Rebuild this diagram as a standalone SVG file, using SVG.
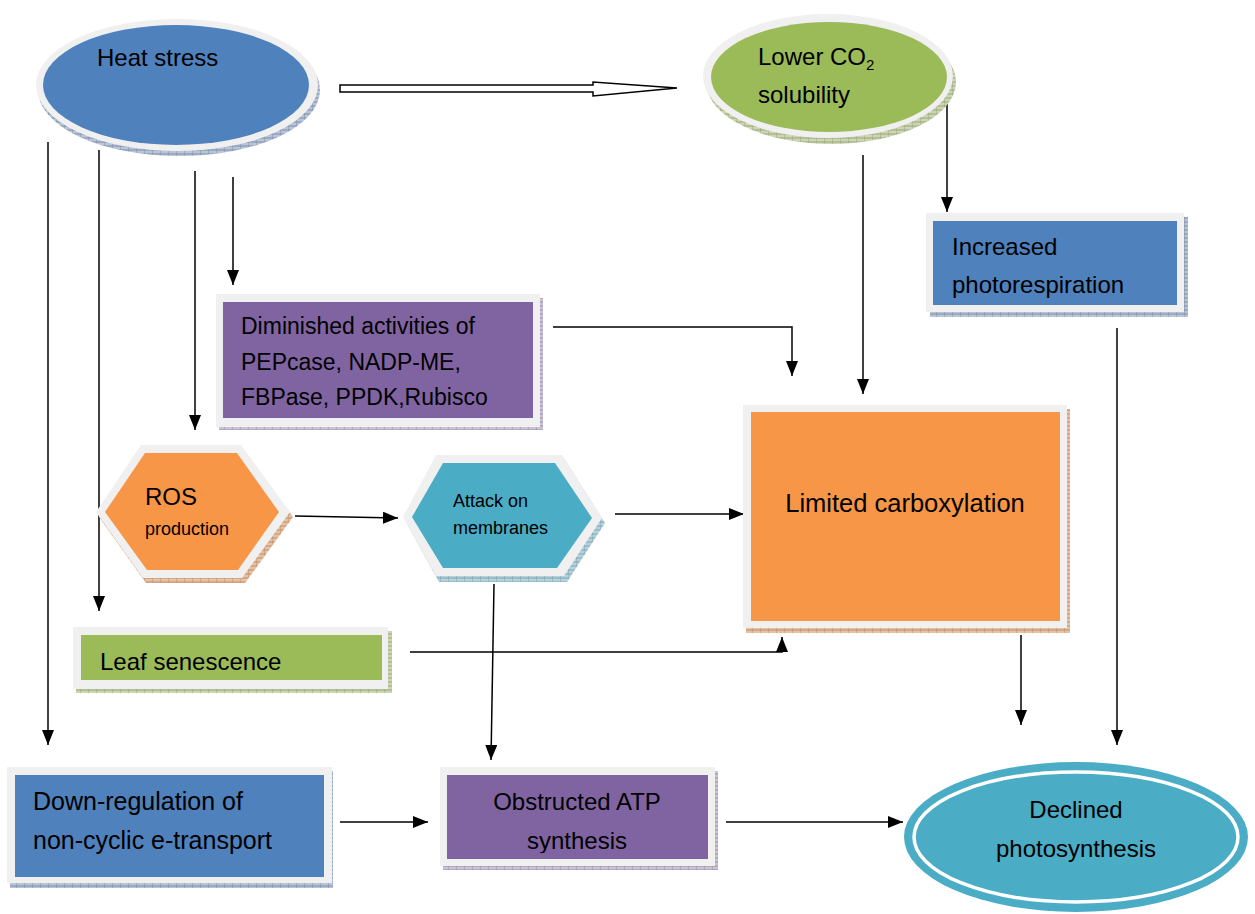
<svg xmlns="http://www.w3.org/2000/svg" width="1255" height="914" viewBox="0 0 1255 914">
<style>
text{font-family:"Liberation Sans",Arial,sans-serif;fill:#000}
.t{font-size:24px}
.s{font-size:18px}
.gr{fill:#f0f0f0}
.blue{fill:#4f81bd}.green{fill:#9bbb59}.orange{fill:#f79646}.purple{fill:#8064a2}.teal{fill:#4bacc6}
.ln{fill:none;stroke:#000;stroke-width:1.5}
</style>
<defs>
<pattern id="hb" width="8" height="4" patternUnits="userSpaceOnUse"><rect width="8" height="4" fill="#b9c4d6"/><path d="M0,0V4M0,2H8" stroke="#6f82a3" stroke-width="0.8"/></pattern>
<pattern id="hg" width="8" height="4" patternUnits="userSpaceOnUse"><rect width="8" height="4" fill="#ccd5b4"/><path d="M0,0V4M0,2H8" stroke="#8e9c6c" stroke-width="0.8"/></pattern>
<pattern id="ho" width="8" height="4" patternUnits="userSpaceOnUse"><rect width="8" height="4" fill="#e6c2a4"/><path d="M0,0V4M0,2H8" stroke="#b7835a" stroke-width="0.8"/></pattern>
<pattern id="ht" width="8" height="4" patternUnits="userSpaceOnUse"><rect width="8" height="4" fill="#b8d2dc"/><path d="M0,0V4M0,2H8" stroke="#6e9bab" stroke-width="0.8"/></pattern>
<pattern id="hp" width="8" height="4" patternUnits="userSpaceOnUse"><rect width="8" height="4" fill="#c9c3d3"/><path d="M0,0V4M0,2H8" stroke="#8c8299" stroke-width="0.8"/></pattern>
<marker id="ah" markerWidth="15" markerHeight="12" refX="15" refY="6" orient="auto" markerUnits="userSpaceOnUse"><path d="M0,0L15,6L0,12z" fill="#000"/></marker>
<clipPath id="clipObs"><rect x="440" y="767" width="280" height="86"/></clipPath>
</defs>

<g id="connectors">
<polygon points="340,85 593,85 593,82 677,88 593,96 593,92 340,92" fill="#fff" stroke="#000" stroke-width="1.5"/>
<path class="ln" d="M48,142V745" marker-end="url(#ah)"/>
<path class="ln" d="M99,150V611" marker-end="url(#ah)"/>
<path class="ln" d="M195,171V430" marker-end="url(#ah)"/>
<path class="ln" d="M233,177V285" marker-end="url(#ah)"/>
<path class="ln" d="M553,327H792V376" marker-end="url(#ah)"/>
<path class="ln" d="M863,155V394" marker-end="url(#ah)"/>
<path class="ln" d="M947,92V212" marker-end="url(#ah)"/>
<path class="ln" d="M295,516L398,518" marker-end="url(#ah)"/>
<path class="ln" d="M615,514H744" marker-end="url(#ah)"/>
<path class="ln" d="M494,584L491,760" marker-end="url(#ah)"/>
<path class="ln" d="M410,652H782V637" marker-end="url(#ah)"/>
<path class="ln" d="M1021,635V725" marker-end="url(#ah)"/>
<path class="ln" d="M1117,328V745" marker-end="url(#ah)"/>
<path class="ln" d="M340,822H428" marker-end="url(#ah)"/>
<path class="ln" d="M726,822H903" marker-end="url(#ah)"/>
</g>

<g id="heat-stress">
<ellipse cx="179" cy="90" rx="141" ry="66" fill="url(#hb)"/>
<ellipse class="gr" cx="177" cy="85" rx="141" ry="66"/>
<ellipse class="blue" cx="176" cy="85" rx="133" ry="60"/>
<text class="t" x="97" y="66">Heat stress</text>
</g>

<g id="lower-co2">
<ellipse cx="831" cy="82" rx="125" ry="62" fill="url(#hg)"/>
<ellipse class="gr" cx="828" cy="76" rx="125" ry="62"/>
<ellipse class="green" cx="829" cy="77" rx="118" ry="55"/>
<text class="t" x="758" y="65">Lower CO<tspan font-size="15" dy="5">2</tspan></text>
<text class="t" x="758" y="103">solubility</text>
</g>

<g id="increased-photorespiration">
<rect x="930" y="217" width="258" height="100" fill="url(#hb)"/>
<rect class="gr" x="926" y="213" width="258" height="99"/>
<rect class="blue" x="933" y="221" width="244" height="84"/>
<text class="t" x="952" y="255">Increased</text>
<text class="t" x="952" y="293">photorespiration</text>
</g>

<g id="diminished-activities">
<rect x="219" y="298" width="324" height="132" fill="url(#hp)"/>
<rect class="gr" x="216" y="294" width="324" height="133"/>
<rect class="purple" x="223" y="302" width="310" height="116"/>
<text x="241" y="334" font-size="23">Diminished activities of</text>
<text x="241" y="370" font-size="23">PEPcase, NADP-ME,</text>
<text x="241" y="405" font-size="23">FBPase, PPDK,Rubisco</text>
</g>

<g id="ros-production">
<polygon points="99,517 144,450 244,450 293,517 245,583 146,583" fill="url(#ho)"/>
<polygon class="gr" points="96,512 141,445 241,445 290,512 242,578 143,578"/>
<polygon class="orange" points="105,512 145,453 237,453 279,512 238,570 147,570"/>
<text class="t" x="145" y="505">ROS</text>
<text class="s" x="145" y="535">production</text>
</g>

<g id="attack-on-membranes">
<polygon points="406,522 439,460 565,460 605,523 567,582 439,582" fill="url(#ht)"/>
<polygon class="gr" points="403,517 436,455 562,455 602,518 564,576 436,576"/>
<polygon class="teal" points="412,517 443,463 555,463 592,518 557,568 443,568"/>
<text class="s" x="453" y="507">Attack on</text>
<text class="s" x="453" y="534">membranes</text>
</g>

<g id="limited-carboxylation">
<rect x="746" y="409" width="324" height="224" fill="url(#ho)"/>
<rect class="gr" x="743" y="405" width="324" height="223"/>
<rect class="orange" x="751" y="412" width="309" height="209"/>
<text x="905" y="512" font-size="25.5" text-anchor="middle">Limited carboxylation</text>
</g>

<g id="leaf-senescence">
<rect x="76" y="631" width="316" height="62" fill="url(#hg)"/>
<rect class="gr" x="73" y="627" width="315" height="62"/>
<rect class="green" x="81" y="635" width="301" height="45"/>
<text class="t" x="100" y="670">Leaf senescence</text>
</g>

<g id="down-regulation">
<rect x="10" y="771" width="323" height="117" fill="url(#hb)"/>
<rect class="gr" x="7" y="767" width="325" height="116"/>
<rect class="blue" x="15" y="775" width="309" height="102"/>
<text x="33" y="810" font-size="25">Down-regulation of</text>
<text x="33" y="849" font-size="25">non-cyclic e-transport</text>
</g>

<g id="obstructed-atp">
<rect x="443" y="771" width="275" height="99" fill="url(#hp)"/>
<rect class="gr" x="440" y="767" width="275" height="99"/>
<rect class="purple" x="447" y="775" width="261" height="84"/>
<g clip-path="url(#clipObs)">
<text class="t" x="577" y="810" text-anchor="middle">Obstructed ATP</text>
<text class="t" x="577" y="849" text-anchor="middle">synthesis</text>
</g>
</g>

<g id="declined-photosynthesis">
<ellipse class="teal" cx="1076" cy="837" rx="172" ry="75"/>
<ellipse cx="1076" cy="837" rx="162" ry="65" fill="none" stroke="#fff" stroke-width="3.5"/>
<text class="t" x="1076" y="818" text-anchor="middle">Declined</text>
<text class="t" x="1076" y="857" text-anchor="middle">photosynthesis</text>
</g>
</svg>
